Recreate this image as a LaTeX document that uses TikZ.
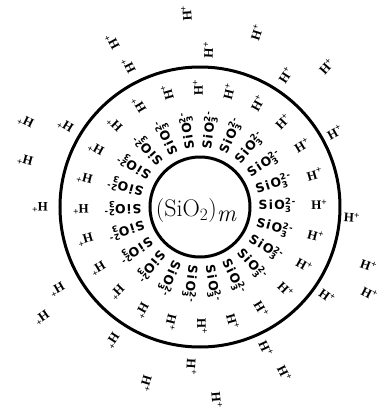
\documentclass[tikz,border=0pt]{standalone}
\usepackage{fontspec}
\newfontfamily\labfont{DejaVu Sans}[LetterSpace=10]
\newfontfamily\hfont{Liberation Serif}
\newcommand{\silab}{{\labfont\bfseries SiO}\rlap{\raisebox{-3pt}{\fontsize{8.5}{9}\selectfont\labfont\bfseries 3}}\raisebox{4.5pt}{\fontsize{8.5}{9}\selectfont\labfont\bfseries 2-}}
\newcommand{\hion}{{\hfont\bfseries H}\raisebox{4.5pt}{\fontsize{9.5}{10}\selectfont\hfont\bfseries +}}
\begin{document}
\begin{tikzpicture}[x=1pt,y=1pt,
  ring/.style={draw=black, line width=3pt, circle, inner sep=0pt},
  silabel/.style={inner sep=0pt, font=\fontsize{12.5}{13}\selectfont},
  hlabel/.style={inner sep=0pt, font=\fontsize{13}{14}\selectfont}]
\useasboundingbox[fill=white] (-200,-209) rectangle (190,207);
\node[ring, minimum size=100pt] (core) at (0,0) {};
\node[ring, minimum size=280pt] (shell) at (0,0) {};
\node[inner sep=0pt] (coretext) at (-4,-4) {\fontsize{24}{27}\selectfont (SiO$_2$)\raisebox{-5pt}{\itshape m}};
\foreach \k in {0,...,21}
  \node[silabel, rotate=\k*360/22+1] (si\k) at ({\k*360/22+1}:77) {\silab};
\foreach \k in {0,...,23}
  \node[hlabel, rotate=\k*15+1] (hi\k) at ({\k*15+1}:119) {\hion};
\foreach \a/\r [count=\n] in {94/194,118/187,117/158,87/157,72/183,57/157,48/189,29/154,356/152,341/178,333/190,325/155,297/186,295/156,275/194,267/160,253/184,237/160,215/193,210/165,180/160,165/181,154/194,149/157}
  \node[hlabel, rotate=\a] (ho\n) at (\a:\r) {\hion};
\end{tikzpicture}
\end{document}
